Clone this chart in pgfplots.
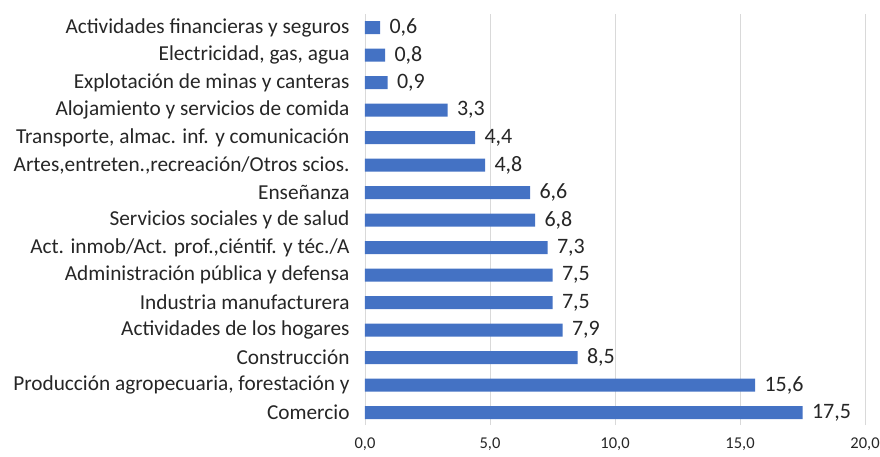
\documentclass[border=0pt]{standalone}
\usepackage{pgfplots}
\pgfplotsset{compat=1.18}
\usepackage{fontspec}
\setmainfont{Carlito}
\definecolor{barblue}{HTML}{4472C4}
\definecolor{gridgray}{HTML}{D9D9D9}
\begin{document}
\begin{tikzpicture}
\useasboundingbox (0,0) rectangle (880bp,457bp);
\begin{axis}[
  at={(365bp,32bp)}, anchor=south west,
  scale only axis, width=500bp, height=411bp,
  xbar, bar width=13bp,
  xmin=0, xmax=20, ymin=-0.45, ymax=14.5,
  xtick={0,5,10,15,20},
  ytick={0,...,14},
  yticklabels={Comercio,{Producción agropecuaria, forestación y},Construcción,Actividades de los hogares,Industria manufacturera,Administración pública y defensa,{Act. inmob/Act. prof.,ciéntif. y téc./A},Servicios sociales y de salud,Enseñanza,{Artes,entreten.,recreación/Otros scios.},{Transporte, almac. inf. y comunicación},Alojamiento y servicios de comida,Explotación de minas y canteras,{Electricidad, gas, agua},Actividades financieras y seguros},
  axis x line*=bottom, axis y line*=left,
  x axis line style={draw=none},
  y axis line style={draw=gridgray, line width=0.8pt},
  major tick length=0pt,
  xmajorgrids, grid style={gridgray, line width=0.8pt},
  /pgf/number format/assume math mode=true,
  xticklabel style={font=\fontsize{16.5bp}{18bp}\selectfont, text=black!85, /pgf/number format/.cd, fixed, fixed zerofill, precision=1, use comma},
  xticklabel shift=9bp,
  yticklabel style={font=\fontsize{21.3bp}{23bp}\selectfont, anchor=east, text=black!85},
  yticklabel shift=12bp,
  nodes near coords,
  nodes near coords style={font=\fontsize{22bp}{24bp}\selectfont, text=black!85, anchor=west, xshift=6bp, /pgf/number format/.cd, fixed, fixed zerofill, precision=1, use comma},
  clip=false,
]
\addplot[fill=barblue, draw=none] coordinates {
(17.5,0) (15.6,1) (8.5,2) (7.9,3) (7.5,4) (7.5,5) (7.3,6) (6.8,7) (6.6,8) (4.8,9) (4.4,10) (3.3,11) (0.9,12) (0.8,13) (0.6,14)
};
\end{axis}
\end{tikzpicture}
\end{document}
